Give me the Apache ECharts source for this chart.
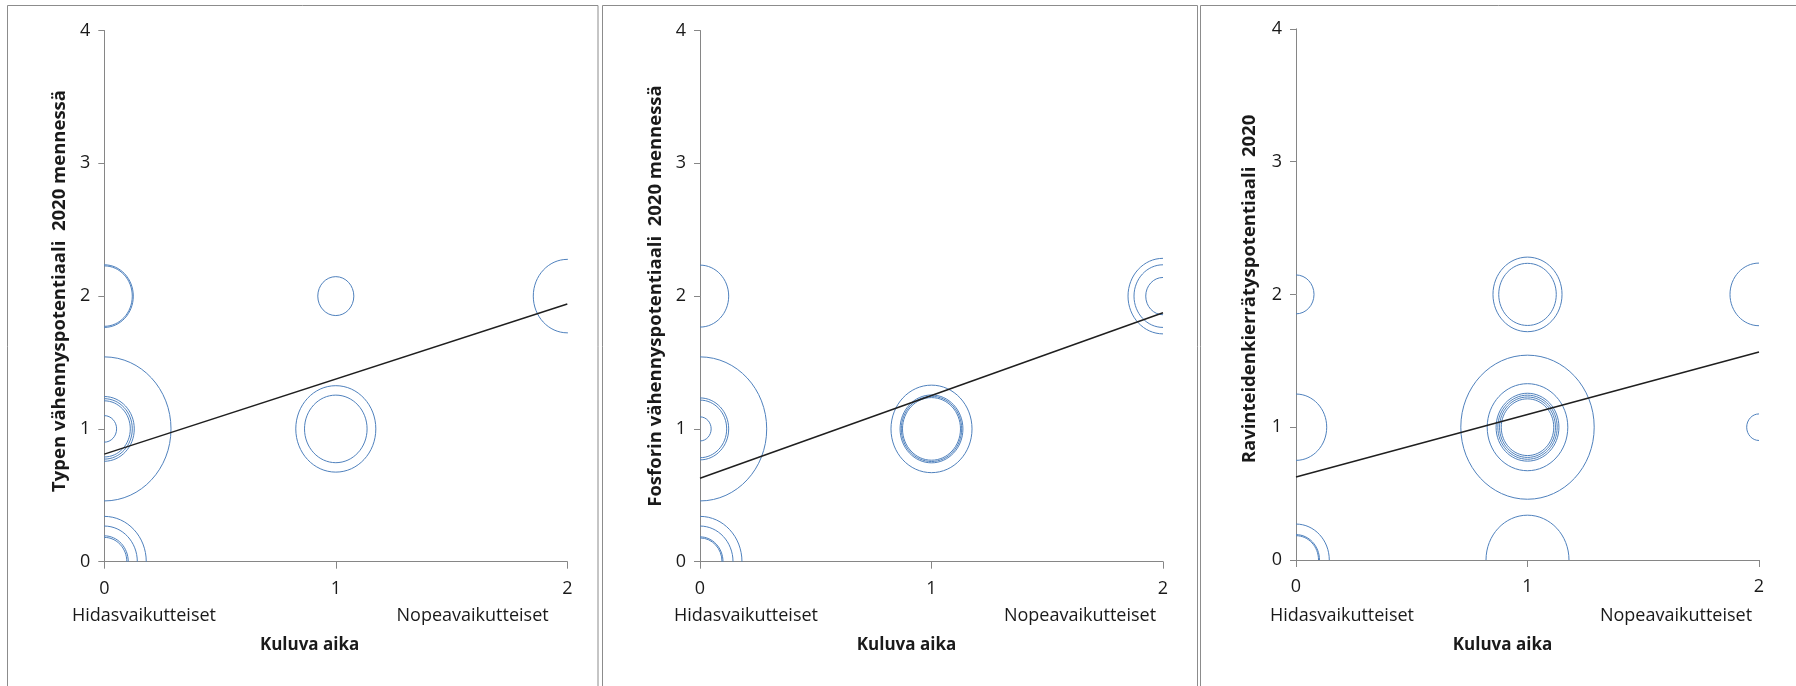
<!DOCTYPE html>
<html>
<head>
<meta charset="utf-8">
<script src="https://cdn.jsdelivr.net/npm/echarts@6/dist/echarts.min.js"></script>
<style>
html,body{margin:0;padding:0;background:#fff;}
#chart{width:1796px;height:686px;}
</style>
</head>
<body>
<div id="chart"></div>
<script>
// ---- data ----
const xTickLabels = ['0', '1', '2'];
const yTickLabels = ['0', '1', '2', '3', '4'];
const xSideLabels = ['Hidasvaikutteiset', 'Nopeavaikutteiset'];
const xTitle = 'Kuluva aika';
const yTitles = [
  'Typen vähennyspotentiaali  2020 mennessä',
  'Fosforin vähennyspotentiaali  2020 mennessä',
  'Ravinteidenkierrätyspotentiaali  2020'
];
// bubbles: [x, y, bubble size]
const typenBubbles = [
  [0, 2, 18.9], [0, 2, 17.6],
  [0, 1, 100], [0, 1, 20.2], [0, 1, 17.6], [0, 1, 15.2], [0, 1, 3.4],
  [0, 0, 39.6], [0, 0, 24.5], [0, 0, 12.9], [0, 0, 11.4],
  [1, 2, 7.3],
  [1, 1, 36], [1, 1, 22],
  [2, 2, 26]
];
const fosforinBubbles = [
  [0, 2, 18.5],
  [0, 1, 100], [0, 1, 18.5], [0, 1, 16], [0, 1, 2.8],
  [0, 0, 39.6], [0, 0, 24.5], [0, 0, 11.9], [0, 0, 10.9],
  [1, 1, 36.9], [1, 1, 22.2], [1, 1, 20.5], [1, 1, 18.9],
  [2, 2, 27.5], [2, 2, 18.9], [2, 2, 6.7]
];
const ravinteidenBubbles = [
  [0, 2, 7.3],
  [0, 1, 21.2],
  [0, 0, 24.9], [0, 0, 12.4], [0, 0, 11.4],
  [1, 2, 26.8], [1, 2, 18.6],
  [1, 1, 100], [1, 1, 36.5], [1, 1, 22.2], [1, 1, 19.8], [1, 1, 17.6], [1, 1, 15.5],
  [1, 0, 38.7],
  [2, 2, 18.9],
  [2, 1, 3.4]
];
// linear trend lines: [x, y] endpoints
const typenTrend = [[0, 0.81], [2, 1.94]];
const fosforinTrend = [[0, 0.628], [2, 1.875]];
const ravinteidenTrend = [[0, 0.625], [2, 1.567]];

// ---- layout / style ----
const FONT = '"Open Sans", "Liberation Sans", sans-serif';
const AXIS_COLOR = '#868686';
const TEXT_COLOR = '#1a1a1a';
const BUBBLE_COLOR = '#4F81BD';
const RADIUS_PER_SQRT = 6.67;   // px of radius per sqrt(size)
const ASPECT_Y = 1.08;          // vertical stretch of the source picture

const panels = [
  { bubbles: typenBubbles, trend: typenTrend, left: 104.3, top: 30.5,
    title: yTitles[0], titleX: 60, titleY: 291, hidasX: 144, nopeaX: 472.6, kuluvaX: 309.6,
    frame: [7.5, 5.5, 590.5] },
  { bubbles: fosforinBubbles, trend: fosforinTrend, left: 700, top: 30.5,
    title: yTitles[1], titleX: 655.5, titleY: 296, hidasX: 746, nopeaX: 1080, kuluvaX: 906.5,
    frame: [602.5, 5.5, 595] },
  { bubbles: ravinteidenBubbles, trend: ravinteidenTrend, left: 1296, top: 28.8,
    title: yTitles[2], titleX: 1249.6, titleY: 289, hidasX: 1342, nopeaX: 1676, kuluvaX: 1502.5,
    frame: [1200.5, 5.5, 620] }
];
const GRID_W = 463, GRID_H = 531.2;

const grids = [], xAxes = [], yAxes = [], series = [], graphics = [];

panels.forEach((p, i) => {
  graphics.push({
    type: 'rect', silent: true, z: -10,
    shape: { x: p.frame[0], y: p.frame[1], width: p.frame[2], height: 720 },
    style: { fill: 'none', stroke: '#8c8c8c', lineWidth: 1 }
  });
  grids.push({ left: p.left, top: p.top, width: GRID_W, height: GRID_H, containLabel: false });
  xAxes.push({
    type: 'value', gridIndex: i, min: 0, max: 2, interval: 1,
    axisLine: { show: true, onZero: false, lineStyle: { color: AXIS_COLOR, width: 1 } },
    axisTick: { show: true, length: 7, lineStyle: { color: AXIS_COLOR } },
    splitLine: { show: false },
    axisLabel: { margin: 18, color: TEXT_COLOR, fontFamily: FONT, fontSize: 18,
      formatter: v => xTickLabels[Math.round(v)] }
  });
  yAxes.push({
    type: 'value', gridIndex: i, min: 0, max: 4, interval: 1,
    axisLine: { show: true, onZero: false, lineStyle: { color: AXIS_COLOR, width: 1 } },
    axisTick: { show: true, length: 6, lineStyle: { color: AXIS_COLOR } },
    splitLine: { show: false },
    axisLabel: { margin: 14, color: TEXT_COLOR, fontFamily: FONT, fontSize: 18,
      formatter: v => yTickLabels[Math.round(v)] }
  });
  series.push({
    type: 'custom', xAxisIndex: i, yAxisIndex: i, clip: true, silent: true,
    data: p.bubbles, encode: { x: 0, y: 1 },
    renderItem: (params, api) => {
      const c = api.coord([api.value(0), api.value(1)]);
      const r = RADIUS_PER_SQRT * Math.sqrt(api.value(2));
      return {
        type: 'ellipse',
        shape: { cx: c[0], cy: c[1], rx: r, ry: r * ASPECT_Y },
        style: { fill: 'none', stroke: BUBBLE_COLOR, lineWidth: 1 }
      };
    }
  });
  series.push({
    type: 'line', xAxisIndex: i, yAxisIndex: i, data: p.trend,
    symbol: 'none', silent: true, z: 5,
    lineStyle: { color: '#1f1f1f', width: 1.5 }
  });
  graphics.push({
    type: 'text', x: p.titleX, y: p.titleY, rotation: Math.PI / 2, silent: true,
    style: { text: p.title, align: 'center', verticalAlign: 'middle',
      font: 'bold 18.5px ' + FONT, fill: TEXT_COLOR }
  });
  graphics.push({
    type: 'text', x: p.hidasX, y: 616, silent: true,
    style: { text: xSideLabels[0], align: 'center', verticalAlign: 'middle',
      font: '18px ' + FONT, fill: TEXT_COLOR }
  });
  graphics.push({
    type: 'text', x: p.nopeaX, y: 616, silent: true,
    style: { text: xSideLabels[1], align: 'center', verticalAlign: 'middle',
      font: '18px ' + FONT, fill: TEXT_COLOR }
  });
  graphics.push({
    type: 'text', x: p.kuluvaX, y: 645, silent: true,
    style: { text: xTitle, align: 'center', verticalAlign: 'middle',
      font: 'bold 17px ' + FONT, fill: TEXT_COLOR }
  });
});

const chart = echarts.init(document.getElementById('chart'), null, { renderer: 'canvas' });
chart.setOption({
  animation: false,
  backgroundColor: '#ffffff',
  grid: grids,
  xAxis: xAxes,
  yAxis: yAxes,
  series: series,
  graphic: graphics
});
</script>
</body>
</html>
